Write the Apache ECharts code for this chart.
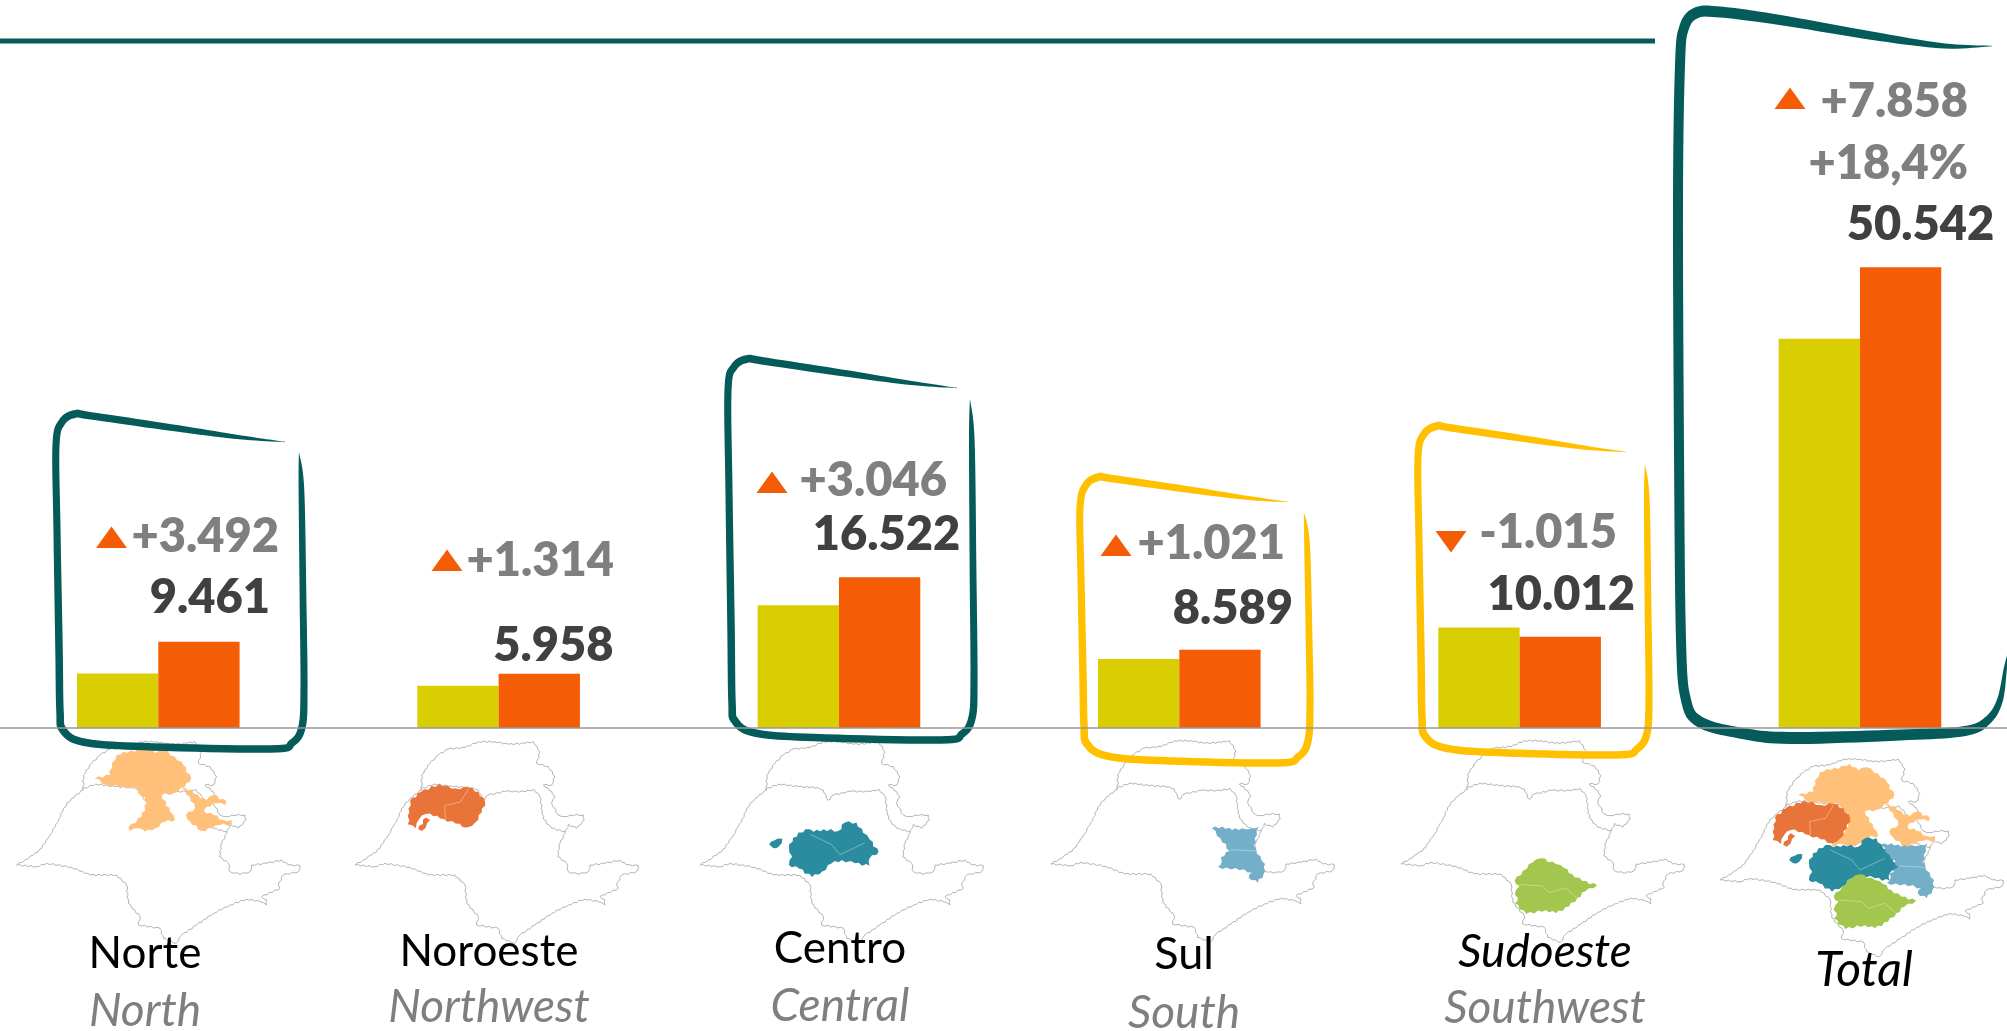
<!DOCTYPE html>
<html><head><meta charset="utf-8">
<style>html,body{margin:0;padding:0;background:#fff}#c{width:2007px;height:1031px}</style>
<script src="https://cdn.jsdelivr.net/npm/echarts@6/dist/echarts.min.js"></script>
</head><body><div id="c"></div>
<script>
// ---- data ----
const categories = ['Norte','Noroeste','Centro','Sul','Sudoeste','Total'];
const englishNames = ['North','Northwest','Central','South','Southwest',''];
const previousValues = [5969,4644,13476,7568,11027,42684];
const currentValues = [9461,5958,16522,8589,10012,50542];
const deltaValues = [3492,1314,3046,1021,-1015,7858];
const totalPercent = '+18,4%';

// ---- layout of annotations (not data) ----
const valueLabelOffsets = [[11,-21],[14,-5],[7,-20],[13,-18],[1,-19],[20,-19]];
const deltaLayout = [
  {right:279,y:537,triX:111.5,triBase:548},
  {right:614,y:561,triX:447,triBase:571},
  {right:947,y:481,triX:772,triBase:493},
  {right:1285,y:544,triX:1116,triBase:556},
  {right:1617,y:533,triX:1451,triBase:531},
  {right:1968,y:102,triX:1790,triBase:109}
];
const labelLayout = [
  {x:145,y1:954,y2:1011},{x:489,y1:952,y2:1007},{x:840,y1:949,y2:1006},
  {x:1184,y1:954,y2:1013},{x:1545,y1:952,y2:1008},{x:1864,y1:971,y2:0}
];
const labelSizes = [44,44,44,45,46,48];
const englishSize = 46;
const mapTips = [[16.7,865],[355,865],[700,865],[1051,864],[1401,864],[1720,880]];

const TEAL='#045B5A', GOLD='#FFC000', ORANGE='#F45D05', OLIVE='#D9CE02', GREY='#7F7F7F', DARK='#404040';
const FONT='Lato, "Open Sans", sans-serif';

// SP state outline, in 3x local trace units
const outlinePts=[[50,400],[75,385],[100,370],[125,350],[138,325],[150,310],[165,285],[175,270],[190,230],[215,200],[250,175],[250,130],[275,95],[300,70],[330,52],[380,48],[420,30],[470,30],[510,38],[560,35],[585,30],[605,60],[595,95],[630,105],[650,135],[640,160],[615,160],[640,180],[650,195],[640,215],[660,250],[680,255],[695,250],[735,250],[738,265],[715,290],[690,278],[680,305],[665,335],[658,375],[685,395],[690,420],[720,428],[750,420],[755,400],[800,395],[845,385],[865,400],[900,402],[895,420],[850,430],[835,460],[840,470],[785,495],[800,505],[800,520],[780,510],[740,502],[690,520],[640,545],[590,580],[545,610],[528,635],[490,620],[480,590],[415,580],[420,555],[385,515],[380,460],[350,430],[270,430],[215,407],[140,395],[110,405],[50,400]];
const innerLine=[[245,173],[287,157],[345,165],[404,168],[420,175],[434,206],[450,190],[502,179],[560,180],[587,173],[605,195],[612,239],[615,262],[640,290],[680,300]];

// Regions traced on the Total map; converted to outline units
const t5=p=>p.map(([x,y])=>[(x-40)*(850/860)+50,(y-450)*(607/595)+400]);
const regions={
 norte:{c:'#FFC07A',polys:[
  [[285,140],[330,130],[335,95],[350,70],[370,60],[405,60],[415,50],[440,45],[465,65],[490,55],[525,75],[550,100],[573,140],[555,165],[520,185],[485,190],[510,240],[525,265],[495,270],[465,290],[435,300],[415,290],[390,298],[385,288],[425,255],[440,215],[435,195],[415,185],[410,170],[360,165],[320,160]],
  [[545,170],[575,175],[600,200],[620,205],[640,190],[680,210],[675,220],[650,215],[620,225],[610,238],[640,250],[670,265],[695,265],[695,278],[660,280],[635,290],[605,298],[570,270],[558,250],[585,230],[570,195]]],lines:[]},
 noroeste:{c:'#E9743A',polys:[t5([[207,262],[240,235],[295,212],[345,225],[385,222],[415,235],[435,265],[425,295],[405,325],[380,340],[345,328],[310,315],[290,305],[255,300],[235,315],[225,342],[200,330],[205,295]]),t5([[232,345],[255,310],[268,318],[255,340],[243,350]])],
   lines:[t5([[385,225],[360,265],[312,275],[315,315]])]},
 centro:{c:'#2A8C9E',polys:[t5([[360,345],[385,352],[415,345],[460,350],[480,325],[515,325],[535,355],[555,375],[582,412],[555,430],[555,452],[510,445],[470,435],[440,445],[410,470],[380,485],[340,460],[310,450],[320,425],[310,400],[322,370]]),t5([[250,390],[265,378],[290,373],[280,395],[262,400]])],
   lines:[t5([[375,360],[440,390],[465,420],[540,385]])]},
 sul:{c:'#74AFC9',polys:[t5([[528,345],[560,340],[590,350],[620,345],[650,345],[670,340],[665,365],[655,395],[665,420],[690,450],[685,480],[668,505],[640,490],[650,475],[600,462],[560,465],[535,460],[555,452],[555,430],[582,412],[555,375]])],
   lines:[t5([[585,408],[665,412]])]},
 sudoeste:{c:'#A2C64E',polys:[t5([[465,433],[510,450],[535,462],[560,480],[590,500],[635,512],[600,530],[575,550],[550,575],[510,595],[480,585],[420,597],[385,565],[395,550],[385,540],[400,515],[385,500],[410,470],[440,445]])],
   lines:[t5([[400,510],[470,515],[490,535],[540,520],[575,550]])]}
};
const mapRegions=[['norte'],['noroeste'],['centro'],['sul'],['sudoeste'],['norte','noroeste','centro','sul','sudoeste']];

// Decorative scalloped edge for the little maps (no chart values involved)
function rough(p,step,amp){
  const out=[];let flip=1;
  for(let i=0;i<p.length-1;i++){
    const [x1,y1]=p[i],[x2,y2]=p[i+1],l=Math.hypot(x2-x1,y2-y1),n=Math.max(1,Math.round(l/step));
    const nx=-(y2-y1)/(l||1),ny=(x2-x1)/(l||1);
    for(let k=0;k<n;k++){const t=k/n,a=k===0?0:amp*flip;flip=-flip;out.push([x1+(x2-x1)*t+nx*a,y1+(y2-y1)*t+ny*a]);}
  }
  out.push(p[p.length-1]);
  return out;
}

const graphics=[];
function mapAt(i){
  const [tx,ty]=mapTips[i]; const sy=i===5?595/607:1;
  const tr=p=>p.map(([x,y])=>[tx+(x-50)/3,ty+(y-400)/3*sy]);
  graphics.push({type:'polyline',z:0,silent:true,shape:{points:tr(rough(outlinePts,9,2))},style:{stroke:'#B4B4B4',lineWidth:1,fill:null}});
  graphics.push({type:'polyline',z:0,silent:true,shape:{points:tr(rough(innerLine,9,2))},style:{stroke:'#B4B4B4',lineWidth:1,fill:null}});
  mapRegions[i].forEach(k=>{
    const r=regions[k];
    r.polys.forEach(p=>graphics.push({type:'polygon',z:0,silent:true,shape:{points:tr(rough(p.concat([p[0]]),12,3.5))},style:{fill:r.c}}));
    r.lines.forEach(p=>graphics.push({type:'polyline',z:0,silent:true,shape:{points:tr(p)},style:{stroke:'rgba(255,255,255,0.35)',lineWidth:1,fill:null}}));
  });
}

// Brush-stroke loops: centreline points [x,y,width] widened into a filled shape
function brush(pts,color){
  const s=[];
  const n=pts.length;
  for(let i=0;i<n-1;i++){
    const p0=pts[Math.max(i-1,0)],p1=pts[i],p2=pts[i+1],p3=pts[Math.min(i+2,n-1)];
    for(let k=0;k<10;k++){
      const t=k/10,t2=t*t,t3=t2*t;
      const f=j=>0.5*(2*p1[j]+(p2[j]-p0[j])*t+(2*p0[j]-5*p1[j]+4*p2[j]-p3[j])*t2+(3*p1[j]-p0[j]-3*p2[j]+p3[j])*t3);
      s.push([f(0),f(1),Math.max(f(2),0)]);
    }
  }
  s.push(pts[n-1]);
  const a=[],b=[];
  s.forEach((q,i)=>{
    const u=s[Math.max(i-1,0)],v=s[Math.min(i+1,s.length-1)];
    let dx=v[0]-u[0],dy=v[1]-u[1];const l=Math.hypot(dx,dy)||1;dx/=l;dy/=l;
    a.push([q[0]-dy*q[2]/2,q[1]+dx*q[2]/2]);b.unshift([q[0]+dy*q[2]/2,q[1]-dx*q[2]/2]);
  });
  graphics.push({type:'polygon',z:1,silent:true,shape:{points:a.concat(b)},style:{fill:color}});
}
function loop(o,color){
  const {L,T,R,B,ex,ey,sx,sy,w,r}=o;
  brush([
   [ex,ey,0.3],
   [L+(ex-L)*.8,T+(ey-T)*.8+1,w*.55],
   [L+(ex-L)*.5,T+(ey-T)*.5,w*.9],
   [L+(ex-L)*.15,T+(ey-T)*.1,w],
   [L+r*.9,T+1,w*1.05],
   [L+r*.25,T+r*.45,w],
   [L-1,T+r*1.6,w*.95],
   [L,T+(B-T)*.35,w*.95],
   [L+2,T+(B-T)*.7,w],
   [L+3,B-r*1.9,w],
   [L+r*.3,B-r*.95,w*1.05],
   [L+r*1.3,B-r*.35,w],
   [L+(R-L)*.35,B-r*.12,w],
   [R-r*1.6,B,w],
   [R-r*.55,B-r*.3,w],
   [R-r*.05,B-r*1.1,w],
   [R+1,B-r*3,w*.95],
   [R,T+(B-T)*.55,w*.9],
   [sx+(R-sx)*.6,sy+(B-sy)*.12,w*.75],
   [sx,sy,0.3]
  ],color);
}
loop({L:57,T:413,R:303,B:749,ex:285,ey:442,sx:299,sy:453,w:7.5,r:20},TEAL);
loop({L:729,T:358,R:973,B:740,ex:957,ey:388,sx:970,sy:400,w:7.5,r:20},TEAL);
loop({L:1081,T:476,R:1309,B:763,ex:1288,ey:502,sx:1304,sy:513,w:7.5,r:20},GOLD);
loop({L:1419,T:425,R:1648,B:755,ex:1626,ey:452,sx:1645,sy:465,w:7.5,r:20},GOLD);
brush([[1992,46,0.5],[1945,46,5],[1880,37,8],[1780,20,10],[1720,12,11],[1696,13,11],[1684,28,10],[1680,65,10],[1678,200,10],[1679,450,10],[1681,640,10],[1686,700,10],[1700,722,11],[1740,733,11],[1790,738,12],[1900,735,11],[1965,731,10],[1988,720,8],[2000,700,6],[2006,665,3],[2012,640,1]],TEAL);

// top rule
graphics.push({type:'line',z:1,silent:true,shape:{x1:0,y1:41,x2:1655,y2:41},style:{stroke:TEAL,lineWidth:5}});

const fmt=v=>String(Math.abs(v)).replace(/\B(?=(\d{3})+$)/g,'.');
categories.forEach((c,i)=>{
  mapAt(i);
  const d=deltaLayout[i],up=deltaValues[i]>=0,ap=up?-21.5:21.5;
  graphics.push({type:'polygon',z:4,silent:true,shape:{points:[[d.triX-15.5,d.triBase],[d.triX+15.5,d.triBase],[d.triX,d.triBase+ap]]},style:{fill:ORANGE}});
  graphics.push({type:'text',z:4,silent:true,style:{x:d.right,y:d.y,text:(up?'+':'-')+fmt(deltaValues[i]),fill:GREY,font:'800 47px '+FONT,align:'right',verticalAlign:'middle'}});
  const l=labelLayout[i],ital=(i>=4)?'italic ':'';
  graphics.push({type:'text',z:4,silent:true,style:{x:l.x,y:l.y1,text:c,fill:'#000',font:ital+labelSizes[i]+'px '+FONT,align:'center',verticalAlign:'middle'}});
  if(englishNames[i]) graphics.push({type:'text',z:4,silent:true,style:{x:l.x,y:l.y2,text:englishNames[i],fill:GREY,font:'italic '+englishSize+'px '+FONT,align:'center',verticalAlign:'middle'}});
});
graphics.push({type:'text',z:4,silent:true,style:{x:1968,y:164,text:totalPercent,fill:GREY,font:'800 47px '+FONT,align:'right',verticalAlign:'middle'}});

const chart=echarts.init(document.getElementById('c'),null,{renderer:'canvas'});
chart.setOption({
  animation:false,
  backgroundColor:'#fff',
  grid:{left:-11.87,width:2042,top:181,height:547,containLabel:false,outerBoundsMode:'none'},
  xAxis:{type:'category',data:categories,z:10,axisLine:{lineStyle:{color:'#999',width:1.5}},axisTick:{show:false},axisLabel:{show:false},splitLine:{show:false}},
  yAxis:{type:'value',min:0,max:60000,show:false,splitLine:{show:false}},
  series:[
   {name:'Anterior',type:'bar',z:2,barWidth:81.3,barGap:0,data:previousValues,itemStyle:{color:OLIVE},silent:true},
   {name:'Atual',type:'bar',z:2,barWidth:81.3,barGap:0,silent:true,itemStyle:{color:ORANGE},
    data:currentValues.map((v,i)=>({value:v,label:{offset:valueLabelOffsets[i]}})),
    label:{show:true,position:'top',distance:0,formatter:p=>fmt(p.value),fontFamily:FONT,fontWeight:800,fontSize:47,lineHeight:46,color:DARK}}
  ],
  graphic:{elements:graphics}
});
</script></body></html>
